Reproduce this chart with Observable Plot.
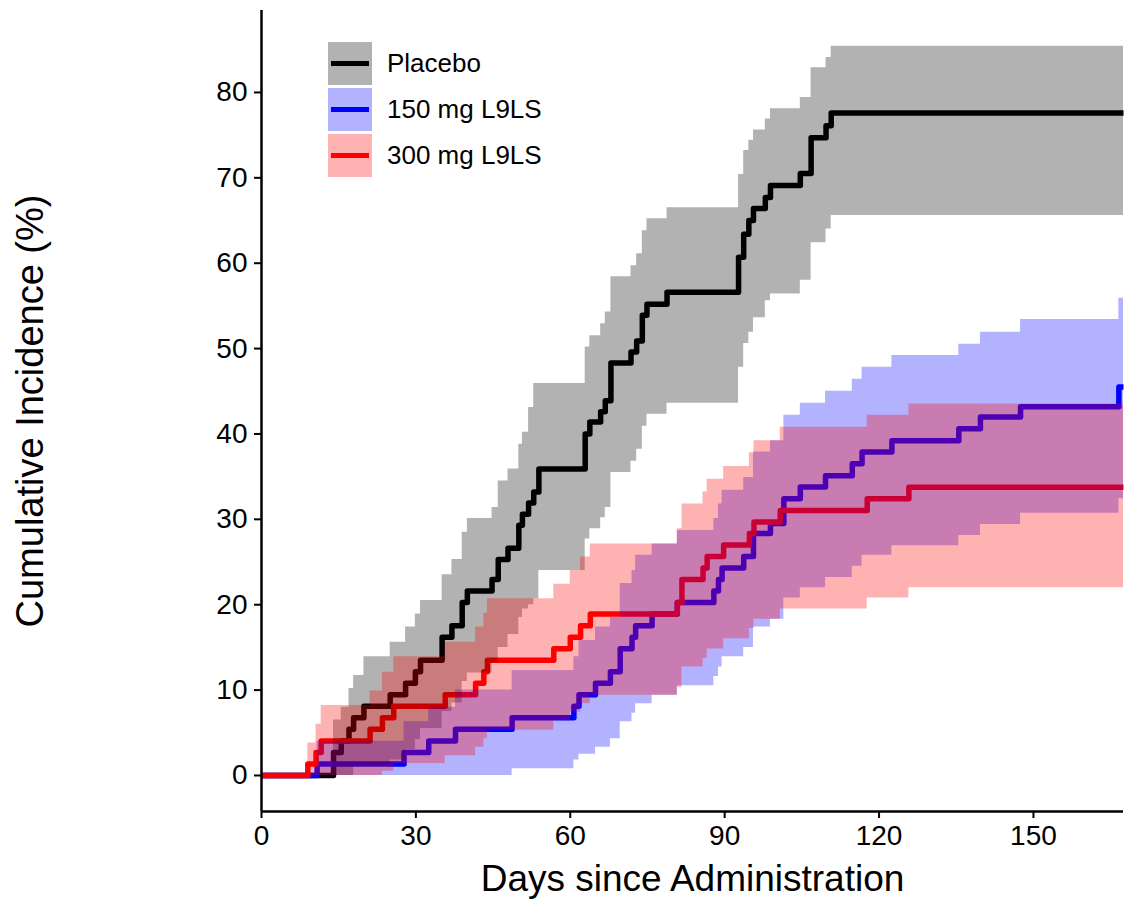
<!DOCTYPE html>
<html>
<head>
<meta charset="utf-8">
<script src="https://cdn.jsdelivr.net/npm/d3@7"></script>
<script src="https://cdn.jsdelivr.net/npm/@observablehq/plot@0.6"></script>
<style>
  html, body { margin: 0; padding: 0; background: #fff; }
  #chart { position: relative; width: 1125px; height: 899px; font-family: "Liberation Sans", Arial, Helvetica, sans-serif; }
  #legend { position: absolute; left: 328px; top: 42px; }
  .row { display: flex; align-items: center; height: 43px; margin-bottom: 3px; }
  .row svg { display: block; }
  .row span { margin-left: 15px; font-size: 26px; color: #000; }
</style>
</head>
<body>
<div id="chart"><div id="legend"></div></div>
<script>
// Kaplan–Meier cumulative incidence (%) with 95% confidence limits, by group.
const placeboDay  = [0, 14.0, 15.5, 17.0, 17.9, 19.9, 25.0, 28.0, 29.9, 30.9, 35.1, 37.0, 39.0, 40.0, 44.8, 46.0, 47.9, 50.0, 50.7, 51.9, 52.9, 53.9, 62.9, 63.8, 65.9, 66.8, 67.9, 71.8, 72.9, 74.0, 74.9, 78.8, 92.7, 93.7, 94.7, 95.6, 97.9, 98.9, 104.7, 106.8, 109.7, 110.7, 167.5];
const placeboEst  = [0, 2.7, 4.05, 5.4, 6.75, 8.1, 9.45, 10.8, 12.15, 13.5, 16.2, 17.55, 20.25, 21.6, 22.95, 25.3, 26.6, 29.3, 30.6, 31.9, 33.2, 35.9, 40.0, 41.4, 42.6, 43.9, 48.3, 49.6, 50.9, 53.9, 55.2, 56.6, 60.7, 63.4, 65.0, 66.4, 67.7, 69.1, 70.5, 74.7, 76.1, 77.6, 77.6];
const placeboLow  = [0, 0, 0, 0, 1.2, 1.2, 1.8, 3.0, 4.2, 5.5, 7.5, 8.5, 11.0, 12.0, 13.2, 15.0, 16.5, 18.5, 19.5, 20.0, 20.7, 24.0, 27.7, 28.9, 30.2, 31.4, 35.5, 36.8, 38.2, 40.9, 42.3, 43.6, 47.8, 50.6, 51.9, 53.6, 55.6, 56.4, 58.0, 62.4, 64.0, 65.6, 65.6];
const placeboHigh = [0, 6.5, 8.0, 10.2, 11.7, 13.9, 15.6, 17.4, 18.9, 20.5, 23.5, 25.3, 28.5, 30.1, 31.4, 34.5, 35.9, 38.8, 40.2, 43.1, 45.9, 45.9, 50.2, 51.5, 52.9, 54.3, 58.4, 59.7, 61.1, 63.8, 65.2, 66.5, 70.4, 73.2, 74.4, 75.6, 76.9, 78.1, 79.4, 82.9, 84.1, 85.4, 85.4];

const mg150Day  = [0, 10.8, 27.7, 32.5, 37.7, 48.7, 60.7, 61.7, 64.9, 67.8, 69.7, 72.0, 72.7, 75.9, 80.8, 87.9, 88.8, 89.5, 93.7, 95.6, 98.9, 101.5, 104.7, 109.6, 114.8, 116.7, 122.5, 135.5, 139.7, 147.5, 166.6, 167.5];
const mg150Est  = [0, 1.35, 2.7, 4.05, 5.4, 6.75, 8.1, 9.45, 10.8, 12.15, 14.85, 16.2, 17.55, 18.9, 20.25, 21.6, 22.95, 24.3, 25.65, 28.35, 29.5, 32.4, 33.8, 35.1, 36.5, 37.9, 39.2, 40.6, 42.0, 43.2, 45.5, 45.5];
const mg150Low  = [0, 0, 0, 0, 0, 0.8, 1.8, 2.5, 3.3, 4.3, 6.3, 7.3, 8.4, 9.4, 10.5, 11.6, 12.7, 13.9, 15.0, 17.4, 18.3, 20.8, 22.0, 23.2, 24.5, 25.8, 26.9, 28.1, 29.4, 30.7, 32.4, 32.4];
const mg150High = [0, 4.0, 6.3, 8.0, 10.0, 12.3, 13.9, 15.8, 17.4, 18.5, 22.5, 24.0, 25.8, 27.1, 28.7, 30.1, 31.8, 33.4, 34.9, 37.9, 39.2, 42.2, 43.6, 45.0, 46.4, 47.8, 49.2, 50.5, 51.9, 53.4, 55.9, 55.9];

const mg300Day  = [0, 9.0, 10.6, 11.6, 21.1, 23.5, 25.7, 35.7, 41.6, 43.2, 43.9, 56.8, 60.0, 62.0, 63.9, 80.8, 81.7, 85.8, 86.6, 89.8, 94.8, 95.7, 100.8, 117.7, 125.8, 167.5];
const mg300Est  = [0, 1.35, 2.7, 4.05, 5.4, 6.75, 8.1, 9.45, 10.8, 12.15, 13.5, 14.85, 16.2, 17.55, 18.9, 20.25, 22.95, 24.3, 25.65, 27.0, 28.35, 29.7, 31.05, 32.4, 33.75, 33.75];
const mg300Low  = [0, 0, 0, 0, 0, 0.5, 1.4, 2.3, 3.3, 4.3, 5.3, 6.4, 7.4, 8.4, 9.4, 10.3, 12.7, 13.7, 14.8, 16.0, 17.2, 18.3, 19.5, 20.8, 22.0, 22.0];
const mg300High = [0, 3.8, 6.0, 8.2, 9.9, 12.1, 13.9, 15.6, 17.4, 19.0, 20.7, 22.4, 24.0, 25.6, 27.1, 28.9, 31.8, 33.2, 34.7, 36.2, 37.8, 39.2, 40.8, 42.2, 43.5, 43.5];

const groups      = ["Placebo", "150 mg L9LS", "300 mg L9LS"];
const groupColors = ["#000000", "#0000ff", "#ff0000"];
const xTicks = [0, 30, 60, 90, 120, 150];
const yTicks = [0, 10, 20, 30, 40, 50, 60, 70, 80];

const yMin = -4.22, yMax = 89.6;

function table(day, est, low, high) {
  return day.map((d, i) => ({day: d, est: est[i], low: low[i], high: high[i]}));
}
const series = [
  table(placeboDay, placeboEst, placeboLow, placeboHigh),
  table(mg150Day, mg150Est, mg150Low, mg150High),
  table(mg300Day, mg300Est, mg300Low, mg300High)
];

const font = '"Liberation Sans", Arial, Helvetica, sans-serif';

const chart = Plot.plot({
  width: 1125,
  height: 899,
  marginLeft: 261,
  marginRight: 2,
  marginTop: 10,
  marginBottom: 88,
  style: {fontFamily: font, color: "#000", background: "#fff", overflow: "visible"},
  x: {domain: [0, 167.5]},
  y: {domain: [yMin, yMax]},
  marks: [
    // step curves first, bands drawn over them
    ...series.map((s, i) => Plot.line(s, {x: "day", y: "est", curve: "step-after", stroke: groupColors[i], strokeWidth: 5.5, strokeLinejoin: "round", strokeLinecap: "butt"})),
    ...series.map((s, i) => Plot.areaY(s, {x: "day", y1: "low", y2: "high", curve: "step-after", fill: groupColors[i], fillOpacity: 0.3})),
    Plot.ruleX([0], {stroke: "#000", strokeWidth: 2.5}),
    Plot.ruleY([yMin], {stroke: "#000", strokeWidth: 2.5}),
    Plot.axisX({ticks: xTicks, tickSize: 7, tickPadding: 7, fontSize: 28, strokeWidth: 2, label: null}),
    Plot.axisY({ticks: yTicks, tickSize: 7, tickPadding: 7, fontSize: 28, strokeWidth: 2, label: null}),
    Plot.text(["Days since Administration"], {frameAnchor: "bottom", dy: 68, fontSize: 37, textAnchor: "middle", lineAnchor: "middle", fill: "#000"}),
    Plot.text(["Cumulative Incidence (%)"], {frameAnchor: "left", dx: -231, rotate: -90, fontSize: 38, textAnchor: "middle", lineAnchor: "middle", fill: "#000"})
  ]
});

const root = document.getElementById("chart");
root.insertBefore(chart, root.firstChild);

// legend: translucent band swatch with the step line colour across it
const legend = d3.select("#legend");
groups.forEach((g, i) => {
  const row = legend.append("div").attr("class", "row");
  const sw = row.append("svg").attr("width", 44).attr("height", 43);
  sw.append("rect").attr("width", 44).attr("height", 43).attr("fill", groupColors[i]).attr("fill-opacity", 0.3);
  sw.append("line").attr("x1", 3).attr("x2", 41).attr("y1", 21.5).attr("y2", 21.5)
    .attr("stroke", groupColors[i]).attr("stroke-width", 5);
  row.append("span").text(g);
});
</script>
</body>
</html>
